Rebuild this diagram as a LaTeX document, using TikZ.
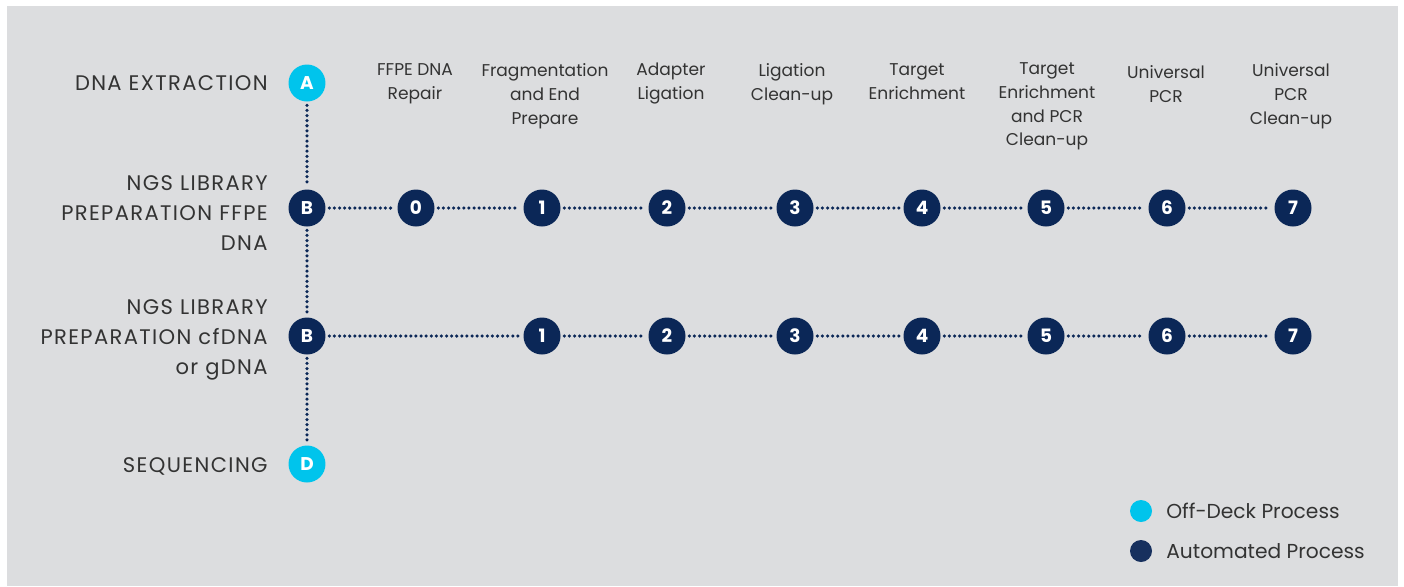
\documentclass[tikz,border=0pt]{standalone}
\usepackage{fontspec}
\setmainfont{Poppins}
\usepackage{xcolor}
\usepackage{tikz}

\definecolor{panelgray}{HTML}{DCDDDF}
\definecolor{deepnavy}{HTML}{0B2757}
\definecolor{legendnavy}{HTML}{17305E}
\definecolor{skycyan}{HTML}{00C4EC}
\definecolor{labelgray}{HTML}{333333}

\begin{document}
\begin{tikzpicture}[x=0.02cm, y=-0.02cm,
    autostep/.style={circle, fill=deepnavy, text=white, inner sep=0pt, minimum size=0.74cm, font=\fontsize{10.5}{12}\selectfont\bfseries},
    offstep/.style={autostep, fill=skycyan},
    dotline/.style={deepnavy, line width=2pt, dash pattern=on 0pt off 2.9pt, line cap=round, shorten <=2pt, shorten >=2pt},
    header/.style={anchor=north, align=center, inner sep=0pt, text=labelgray, font=\fontsize{9.7}{13.6}\selectfont},
    rowlabel/.style={anchor=east, align=right, inner sep=0pt, text=labelgray, font=\fontsize{12}{17}\selectfont\addfontfeatures{LetterSpace=6.5}},
    legenddot/.style={circle, inner sep=0pt, minimum size=0.44cm},
    legendtext/.style={anchor=west, inner sep=0pt, text=labelgray, font=\fontsize{11.5}{14}\selectfont}]
    \useasboundingbox (0,0) rectangle (1404,586);
    \fill[white] (0,0) rectangle (1404,586);
    \fill[panelgray] (7,6) rectangle (1398,586);

    % left column: stages
    \node[offstep] (A) at (307,83) {A};
    \node[autostep] (B1) at (307,208) {B};
    \node[autostep] (B2) at (307,336) {B};
    \node[offstep] (D) at (307,464) {D};

    \node[rowlabel] (extract) at (268,83) {DNA EXTRACTION};
    \node[rowlabel] (ffpe) at (268,213) {NGS LIBRARY\\PREPARATION FFPE\\DNA};
    \node[rowlabel] (cfdna) at (268,340) {NGS LIBRARY\\PREPARATION cfDNA\\or gDNA};
    \node[rowlabel] (seq) at (268,466) {SEQUENCING};

    % step headers
    \node[header] (h0) at (415,63) {FFPE DNA\\Repair};
    \node[header] (h1) at (545,63) {Fragmentation\\and End\\Prepare};
    \node[header] (h2) at (671,63) {Adapter\\Ligation};
    \node[header] (h3) at (792,63) {Ligation\\Clean-up};
    \node[header] (h4) at (917,63) {Target\\Enrichment};
    \node[header] (h5) at (1047,62) {Target\\Enrichment\\and PCR\\Clean-up};
    \node[header] (h6) at (1166,65) {Universal\\PCR};
    \node[header] (h7) at (1291,63) {Universal\\PCR\\Clean-up};

    % FFPE row
    \node[autostep] (f0) at (416,208) {0};
    \node[autostep] (f1) at (542,208) {1};
    \node[autostep] (f2) at (667,208) {2};
    \node[autostep] (f3) at (795,208) {3};
    \node[autostep] (f4) at (922,208) {4};
    \node[autostep] (f5) at (1046,208) {5};
    \node[autostep] (f6) at (1167,208) {6};
    \node[autostep] (f7) at (1293,208) {7};

    % cfDNA / gDNA row
    \node[autostep] (c1) at (542,336) {1};
    \node[autostep] (c2) at (667,336) {2};
    \node[autostep] (c3) at (795,336) {3};
    \node[autostep] (c4) at (922,336) {4};
    \node[autostep] (c5) at (1046,336) {5};
    \node[autostep] (c6) at (1167,336) {6};
    \node[autostep] (c7) at (1293,336) {7};

    \draw[dotline] (A) -- (B1);
    \draw[dotline] (B1) -- (B2);
    \draw[dotline] (B2) -- (D);

    \draw[dotline] (B1) -- (f0);
    \draw[dotline] (f0) -- (f1);
    \draw[dotline] (f1) -- (f2);
    \draw[dotline] (f2) -- (f3);
    \draw[dotline] (f3) -- (f4);
    \draw[dotline] (f4) -- (f5);
    \draw[dotline] (f5) -- (f6);
    \draw[dotline] (f6) -- (f7);

    \draw[dotline] (B2) -- (c1);
    \draw[dotline] (c1) -- (c2);
    \draw[dotline] (c2) -- (c3);
    \draw[dotline] (c3) -- (c4);
    \draw[dotline] (c4) -- (c5);
    \draw[dotline] (c5) -- (c6);
    \draw[dotline] (c6) -- (c7);

    % legend
    \node[legenddot, fill=skycyan] (offkey) at (1141,511) {};
    \node[legendtext] (offtext) at (1166,511) {Off-Deck Process};
    \node[legenddot, fill=legendnavy] (autokey) at (1141,551) {};
    \node[legendtext] (autotext) at (1166,551) {Automated Process};
\end{tikzpicture}
\end{document}
